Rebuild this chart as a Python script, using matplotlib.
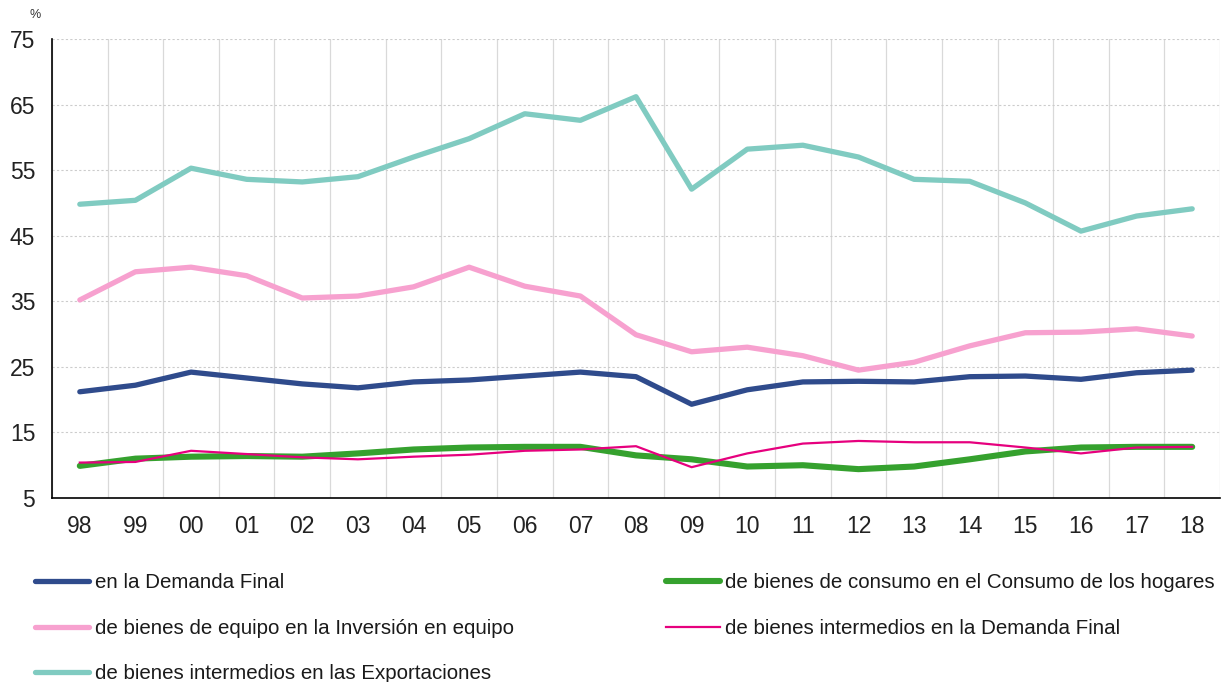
import matplotlib.pyplot as plt
import numpy as np

plt.rcParams['font.family'] = ['Liberation Sans', 'DejaVu Sans']

years = ["98", "99", "00", "01", "02", "03", "04", "05", "06", "07", "08",
         "09", "10", "11", "12", "13", "14", "15", "16", "17", "18"]

demanda_final = [21.2, 22.2, 24.2, 23.3, 22.4, 21.8, 22.7, 23.0, 23.6, 24.2, 23.5,
                 19.3, 21.5, 22.7, 22.8, 22.7, 23.5, 23.6, 23.1, 24.1, 24.5]
consumo_hogares = [9.9, 11.0, 11.3, 11.4, 11.3, 11.8, 12.4, 12.7, 12.8, 12.8, 11.5,
                   10.9, 9.8, 10.0, 9.4, 9.8, 10.9, 12.1, 12.7, 12.8, 12.8]
inversion_equipo = [35.2, 39.5, 40.2, 38.9, 35.5, 35.8, 37.2, 40.2, 37.3, 35.8, 29.9,
                    27.3, 28.0, 26.7, 24.5, 25.7, 28.2, 30.2, 30.3, 30.8, 29.7]
intermedios_df = [10.4, 10.5, 12.2, 11.7, 11.2, 10.9, 11.3, 11.6, 12.2, 12.4, 12.9,
                  9.7, 11.8, 13.3, 13.7, 13.5, 13.5, 12.7, 11.8, 12.7, 12.8]
intermedios_exp = [49.8, 50.4, 55.3, 53.6, 53.2, 54.0, 57.0, 59.8, 63.6, 62.6, 66.2,
                   52.1, 58.2, 58.8, 57.0, 53.6, 53.3, 50.0, 45.7, 48.0, 49.1]

fig = plt.figure(figsize=(12.3, 6.82), dpi=100)
ax = fig.add_axes([52/1230, 1-498/682, (1220-52)/1230, (498-39)/682])

x = np.arange(len(years))
l1, = ax.plot(x, demanda_final, color='#2f4b8c', lw=3.8, solid_capstyle='round',
              label='en la Demanda Final')
l2, = ax.plot(x, consumo_hogares, color='#35a12e', lw=4.4, solid_capstyle='round',
              label='de bienes de consumo en el Consumo de los hogares')
l3, = ax.plot(x, inversion_equipo, color='#f7a1cf', lw=3.8, solid_capstyle='round',
              label='de bienes de equipo en la Inversión en equipo')
l4, = ax.plot(x, intermedios_df, color='#e6007e', lw=1.6,
              label='de bienes intermedios en la Demanda Final')
l5, = ax.plot(x, intermedios_exp, color='#80cbc1', lw=3.8, solid_capstyle='round',
              label='de bienes intermedios en las Exportaciones')

ax.set_xlim(-0.5, len(years) - 0.5)
ax.set_ylim(5, 75)
ax.set_yticks(np.arange(5, 76, 10))
ax.set_xticks(x)
ax.set_xticklabels(years)
ax.set_xticks(np.arange(-0.5, len(years), 1), minor=True)
ax.tick_params(axis='both', which='both', length=0, labelsize=16.5, colors='#222222')
ax.tick_params(axis='y', pad=12)
ax.tick_params(axis='x', pad=12)

ax.grid(axis='y', which='major', color='#cccccc', linestyle=(0, (2, 2)), lw=0.8)
ax.grid(axis='x', which='minor', color='#d9d9d9', linestyle='-', lw=0.9)
ax.set_axisbelow(True)
for s in ['top', 'right']:
    ax.spines[s].set_visible(False)
for s in ['left', 'bottom']:
    ax.spines[s].set_color('black')
    ax.spines[s].set_linewidth(1.2)

fig.text(30/1230, 1-15/682, '%', fontsize=9, color='#333333', va='center')

fig.legend(handles=[l1, l3, l5, l2, l4], ncol=2, loc='upper left',
           bbox_to_anchor=(35/1230, 1-573/682), frameon=False, fontsize=14.8,
           handlelength=2.65, handletextpad=0.25, borderpad=0, borderaxespad=0,
           columnspacing=7.4, labelspacing=1.3, labelcolor='#1a1a1a')

fig.savefig('out.png', dpi=100)
